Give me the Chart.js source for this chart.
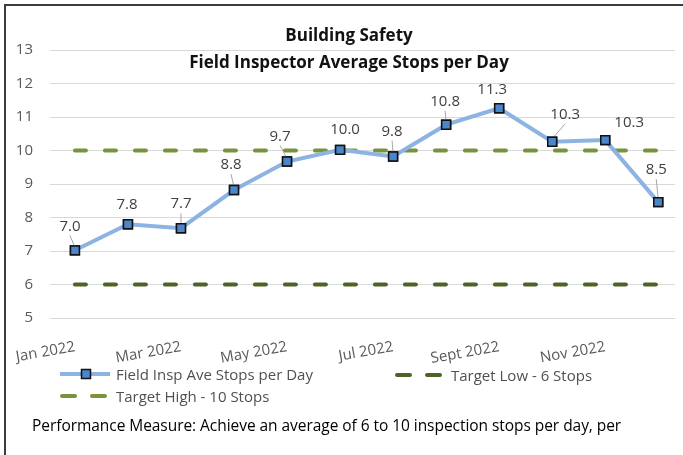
<!DOCTYPE html>
<html lang="en">
<head>
    <meta charset="UTF-8">
    <title>Building Safety - Field Inspector Average Stops per Day</title>
    <style>
        body {
            margin: 0;
            background: white;
            font-family: "Open Sans", Arial, sans-serif;
        }
        .wrap {
            position: relative;
            width: 683px;
            height: 455px;
            overflow: hidden;
        }
        .frame {
            position: absolute;
            left: 4px;
            top: 4px;
            width: 700px;
            height: 480px;
            border-left: 2px solid #3c3c3c;
            border-top: 2px solid #3c3c3c;
        }
        canvas {
            position: absolute;
            left: 0;
            top: 0;
        }
        .legend-item {
            position: absolute;
            display: flex;
            align-items: center;
            font-size: 15px;
            color: #505050;
            white-space: nowrap;
            height: 20px;
        }
        .legend-item svg {
            margin-right: 6px;
        }
        .footer {
            position: absolute;
            left: 32px;
            top: 414px;
            font-size: 15.5px;
            color: #000;
            white-space: nowrap;
            letter-spacing: -0.05px;
        }
    </style>
</head>
<body>
<div class="wrap">
    <div class="frame"></div>
    <canvas id="stopsChart" width="683" height="455"></canvas>

    <div class="legend-item" style="left:60px; top:364px;">
        <svg width="50" height="12">
            <line x1="0" y1="6" x2="50" y2="6" stroke="#8DB3E2" stroke-width="4"/>
            <rect x="21.5" y="1.5" width="9" height="9" fill="#4A86CC" stroke="#111" stroke-width="1.5"/>
        </svg>
        <span id="legSeries"></span>
    </div>
    <div class="legend-item" style="left:395px; top:365px;">
        <svg width="50" height="12">
            <line x1="2" y1="6" x2="48" y2="6" stroke="#4F6228" stroke-width="4" stroke-dasharray="13 17" stroke-linecap="round"/>
        </svg>
        <span id="legLow"></span>
    </div>
    <div class="legend-item" style="left:60px; top:386px;">
        <svg width="50" height="12">
            <line x1="2" y1="6" x2="48" y2="6" stroke="#77933C" stroke-width="4" stroke-dasharray="13 17" stroke-linecap="round"/>
        </svg>
        <span id="legHigh"></span>
    </div>
    <div class="footer">Performance Measure: Achieve an average of 6 to 10 inspection stops per day, per</div>
</div>

<script src="https://cdn.jsdelivr.net/npm/chart.js"></script>
<script>
    const titleLines = ['Building Safety', 'Field Inspector Average Stops per Day'];
    const months = ['Jan 2022', 'Feb 2022', 'Mar 2022', 'Apr 2022', 'May 2022', 'Jun 2022',
                    'Jul 2022', 'Aug 2022', 'Sept 2022', 'Oct 2022', 'Nov 2022', 'Dec 2022'];
    const avgStops = [7.02, 7.8, 7.68, 8.82, 9.67, 10.02, 9.82, 10.77, 11.26, 10.26, 10.31, 8.46];
    const targetLow = [6, 6, 6, 6, 6, 6, 6, 6, 6, 6, 6, 6];
    const targetHigh = [10, 10, 10, 10, 10, 10, 10, 10, 10, 10, 10, 10];
    const seriesNames = ['Field Insp Ave Stops per Day', 'Target Low - 6 Stops', 'Target High - 10 Stops'];
    const shownTicks = [0, 2, 4, 6, 8, 10];

    // label placement relative to each point (dx, dy, leader line or not)
    const labelPos = [
        [-5, -24, true], [-1, -19, false], [0, -24, true], [-3, -25, true],
        [-7, -25, true], [5, -20, false], [-1, -25, true], [-1, -23, true],
        [-7, -19, false], [13, -27, true], [24, -17, false], [-2, -32, true]
    ];

    document.getElementById('legSeries').textContent = seriesNames[0];
    document.getElementById('legLow').textContent = seriesNames[1];
    document.getElementById('legHigh').textContent = seriesNames[2];

    const toPoints = arr => arr.map((v, i) => ({ x: i, y: v }));

    // title and data labels drawn on the canvas
    const extras = {
        id: 'extras',
        afterDatasetsDraw(chart) {
            const ctx = chart.ctx;
            const meta = chart.getDatasetMeta(0);
            ctx.save();
            ctx.font = '15px "Open Sans", Arial, sans-serif';
            ctx.fillStyle = '#404040';
            ctx.textAlign = 'center';
            ctx.textBaseline = 'middle';
            meta.data.forEach((pt, i) => {
                const [dx, dy, leader] = labelPos[i];
                const lx = pt.x + dx, ly = pt.y + dy;
                if (leader) {
                    ctx.strokeStyle = '#a6a6a6';
                    ctx.lineWidth = 1;
                    ctx.beginPath();
                    ctx.moveTo(lx, ly + 9);
                    ctx.lineTo(pt.x, pt.y - 3);
                    ctx.stroke();
                }
                ctx.fillText(avgStops[i].toFixed(1), lx, ly);
            });
            // redraw markers on top of leader lines
            meta.data.forEach(pt => pt.draw(ctx, chart.chartArea));

            ctx.font = 'bold 17px "Open Sans", Arial, sans-serif';
            ctx.fillStyle = '#111';
            ctx.fillText(titleLines[0], 349, 36);
            ctx.fillText(titleLines[1], 349, 63);
            ctx.restore();
        }
    };

    new Chart(document.getElementById('stopsChart'), {
        type: 'line',
        data: {
            datasets: [
                {
                    label: seriesNames[0],
                    data: toPoints(avgStops),
                    borderColor: '#8DB3E2',
                    borderWidth: 4,
                    pointStyle: 'rect',
                    pointRadius: 6.3,
                    pointBackgroundColor: '#4A86CC',
                    pointBorderColor: '#111',
                    pointBorderWidth: 1.5,
                    tension: 0
                },
                {
                    label: seriesNames[1],
                    data: toPoints(targetLow),
                    borderColor: '#4F6228',
                    borderWidth: 4,
                    borderDash: [11, 19],
                    borderCapStyle: 'round',
                    pointRadius: 0
                },
                {
                    label: seriesNames[2],
                    data: toPoints(targetHigh),
                    borderColor: '#77933C',
                    borderWidth: 4,
                    borderDash: [11, 19],
                    borderCapStyle: 'round',
                    pointRadius: 0
                }
            ]
        },
        options: {
            responsive: false,
            animation: false,
            layout: {
                padding: { top: 50, right: 6, left: 0, bottom: 0 }
            },
            scales: {
                x: {
                    type: 'linear',
                    min: -0.47,
                    max: 11.32,
                    grid: { display: false },
                    border: { display: false },
                    afterBuildTicks: axis => {
                        axis.ticks = shownTicks.map(v => ({ value: v }));
                    },
                    afterFit: axis => { axis.height = 137; },
                    ticks: {
                        autoSkip: false,
                        minRotation: 10,
                        maxRotation: 10,
                        padding: 12,
                        color: '#595959',
                        font: { family: '"Open Sans", Arial, sans-serif', size: 15 },
                        callback: value => months[value]
                    }
                },
                y: {
                    min: 5,
                    max: 13,
                    grid: { color: '#d9d9d9', lineWidth: 1, drawTicks: false },
                    border: { display: false },
                    afterFit: axis => { axis.width = 50; },
                    ticks: {
                        stepSize: 1,
                        padding: 17,
                        color: '#595959',
                        font: { family: '"Open Sans", Arial, sans-serif', size: 15 }
                    }
                }
            },
            plugins: {
                legend: { display: false },
                tooltip: { enabled: false }
            }
        },
        plugins: [extras]
    });
</script>
</body>
</html>
